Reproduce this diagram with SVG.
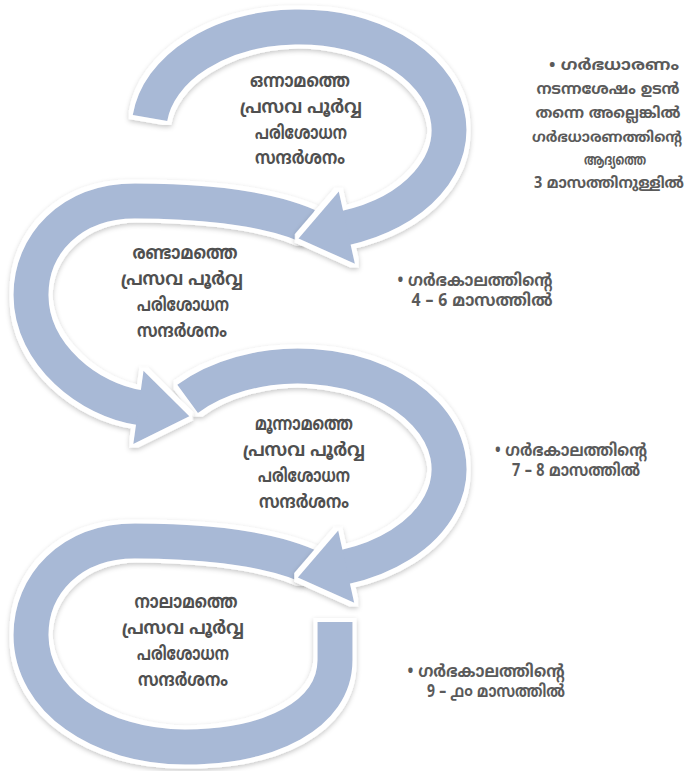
<svg xmlns="http://www.w3.org/2000/svg" width="694" height="771" viewBox="0 0 694 771">
<style>
.band{fill:none;stroke:#a8b9d6;stroke-width:35;stroke-linecap:butt}
.head{fill:#a8b9d6}
.nt{font-family:"Noto Sans Malayalam","Noto Sans","DejaVu Sans",sans-serif;font-size:19px;font-weight:bold;fill:#505050;text-anchor:middle}
.nn{font-family:"Noto Sans Malayalam","Noto Sans","DejaVu Sans",sans-serif;font-size:17px;font-weight:bold;fill:#5a5a5a;text-anchor:middle}
.n1{font-size:15.5px}
.n2{font-size:14.5px}
</style>
<defs>
<filter id="ol" filterUnits="userSpaceOnUse" x="0" y="0" width="694" height="771">
<feMorphology in="SourceAlpha" operator="dilate" radius="3.5" result="d"/>
<feGaussianBlur in="d" stdDeviation="2.5" result="b"/>
<feOffset in="b" dx="0" dy="1.5" result="bo"/>
<feFlood flood-color="#000" flood-opacity="0.22"/>
<feComposite in2="bo" operator="in" result="sh"/>
<feFlood flood-color="#ffffff"/>
<feComposite in2="d" operator="in" result="w"/>
<feMerge><feMergeNode in="sh"/><feMergeNode in="w"/><feMergeNode in="SourceGraphic"/></feMerge>
</filter>
</defs>
<rect width="694" height="771" fill="#fff"/>
<g id="connectors">
<g id="arrow4" filter="url(#ol)">
<path class="band" d="M308,566 C262,546 190,541 135,541 C70,541 31,585 31,635 C31,700 100,747 185,747 C270,747 335,715 335,660 L335,622"/>
</g>
<g id="arrow3" filter="url(#ol)">
<path class="band" d="M187.6,398.8 A151 103 0 1 1 344.7,567"/>
<polygon class="head" points="354.2,602.8 297.8,577.4 338.2,530.6"/>
</g>
<g id="arrow2" filter="url(#ol)">
<path class="band" d="M308,226 C262,206 190,201 135,201 C70,201 31,245 31,295 C31,355 90,400.6 139.9,407.6"/>
<polygon class="head" points="143.5,370.8 189.4,416.3 133.3,444"/>
</g>
<g id="arrow1" filter="url(#ol)">
<path class="band" d="M150,118 A150 103 0 1 1 345.35,227.96"/>
<polygon class="head" points="354.9,263.7 298.5,238.4 338.8,191.5"/>
</g>
</g>
<g id="node1">
<text class="nt" x="300" y="87" textLength="100" lengthAdjust="spacingAndGlyphs">ഒന്നാമത്തെ</text>
<text class="nt" x="301" y="113" textLength="122" lengthAdjust="spacingAndGlyphs">പ്രസവ പൂർവ്വ</text>
<text class="nt" x="301" y="139" textLength="92" lengthAdjust="spacingAndGlyphs">പരിശോധന</text>
<text class="nt" x="300" y="164" textLength="90" lengthAdjust="spacingAndGlyphs">സന്ദർശനം</text>
</g>
<g id="node2">
<text class="nt" x="185" y="259" textLength="105" lengthAdjust="spacingAndGlyphs">രണ്ടാമത്തെ</text>
<text class="nt" x="182" y="285" textLength="122" lengthAdjust="spacingAndGlyphs">പ്രസവ പൂർവ്വ</text>
<text class="nt" x="183" y="311" textLength="92" lengthAdjust="spacingAndGlyphs">പരിശോധന</text>
<text class="nt" x="182" y="337" textLength="90" lengthAdjust="spacingAndGlyphs">സന്ദർശനം</text>
</g>
<g id="node3">
<text class="nt" x="304" y="430" textLength="98" lengthAdjust="spacingAndGlyphs">മൂന്നാമത്തെ</text>
<text class="nt" x="304" y="456" textLength="122" lengthAdjust="spacingAndGlyphs">പ്രസവ പൂർവ്വ</text>
<text class="nt" x="304" y="482" textLength="92" lengthAdjust="spacingAndGlyphs">പരിശോധന</text>
<text class="nt" x="304" y="508" textLength="90" lengthAdjust="spacingAndGlyphs">സന്ദർശനം</text>
</g>
<g id="node4">
<text class="nt" x="186" y="608" textLength="103" lengthAdjust="spacingAndGlyphs">നാലാമത്തെ</text>
<text class="nt" x="183" y="634" textLength="122" lengthAdjust="spacingAndGlyphs">പ്രസവ പൂർവ്വ</text>
<text class="nt" x="183" y="660" textLength="92" lengthAdjust="spacingAndGlyphs">പരിശോധന</text>
<text class="nt" x="183" y="686" textLength="90" lengthAdjust="spacingAndGlyphs">സന്ദർശനം</text>
</g>
<g id="note1">
<text class="nn n1" x="614" y="70" textLength="130" lengthAdjust="spacingAndGlyphs">• ഗർഭധാരണം</text>
<text class="nn n1" x="608" y="94" textLength="143" lengthAdjust="spacingAndGlyphs">നടന്നശേഷം ഉടൻ</text>
<text class="nn n1" x="608" y="118" textLength="145" lengthAdjust="spacingAndGlyphs">തന്നെ അല്ലെങ്കിൽ</text>
<text class="nn n2" x="607" y="142" textLength="150" lengthAdjust="spacingAndGlyphs">ഗർഭധാരണത്തിന്റെ</text>
<text class="nn n1" x="615" y="165" textLength="62" lengthAdjust="spacingAndGlyphs">ആദ്യത്തെ</text>
<text class="nn n1" x="609" y="188" textLength="150" lengthAdjust="spacingAndGlyphs">3 മാസത്തിനുള്ളിൽ</text>
</g>
<g id="note2">
<text class="nn" x="475" y="286" textLength="155" lengthAdjust="spacingAndGlyphs">• ഗർഭകാലത്തിന്റെ</text>
<text class="nn" x="482" y="306" textLength="141" lengthAdjust="spacingAndGlyphs">4 – 6 മാസത്തിൽ</text>
</g>
<g id="note3">
<text class="nn" x="571" y="456" textLength="152" lengthAdjust="spacingAndGlyphs">• ഗർഭകാലത്തിന്റെ</text>
<text class="nn" x="576" y="476" textLength="128" lengthAdjust="spacingAndGlyphs">7 – 8 മാസത്തിൽ</text>
</g>
<g id="note4">
<text class="nn" x="486" y="677" textLength="157" lengthAdjust="spacingAndGlyphs">• ഗർഭകാലത്തിന്റെ</text>
<text class="nn" x="496" y="697" textLength="138" lengthAdjust="spacingAndGlyphs">9 – ൧൦ മാസത്തിൽ</text>
</g>
</svg>
